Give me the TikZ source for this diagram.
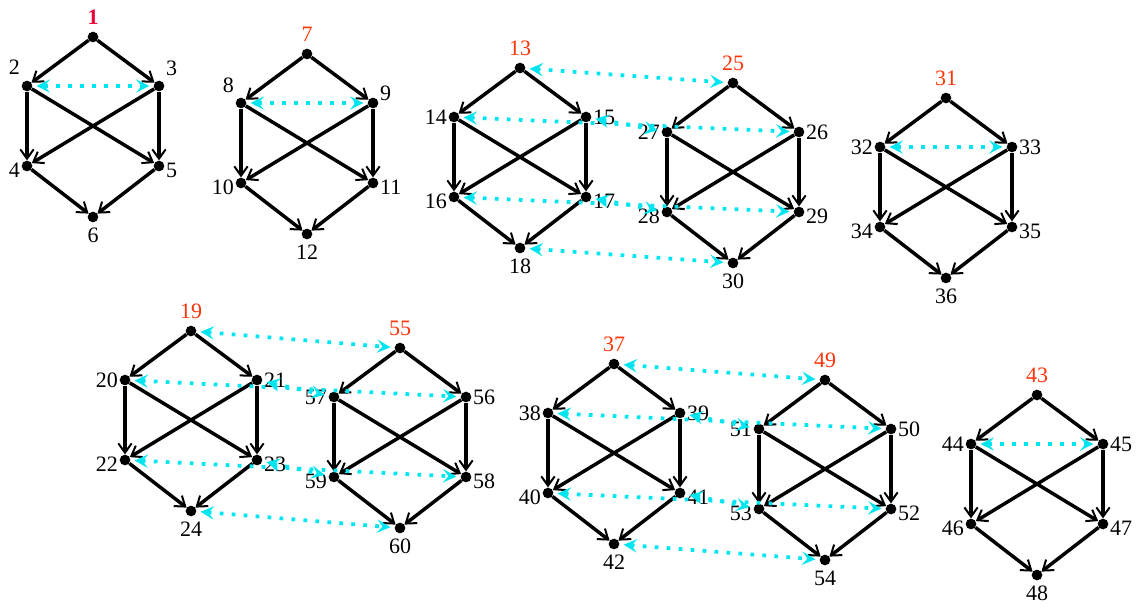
\documentclass[tikz,border=0pt]{standalone}
\usepackage{fontspec}
\setmainfont{Liberation Serif}
\usetikzlibrary{arrows.meta,positioning}

\definecolor{rootred}{RGB}{238,0,58}
\definecolor{rootorange}{RGB}{255,52,8}
\definecolor{linkcyan}{RGB}{0,230,240}

\tikzset{
  vtx/.style={circle,fill=black,inner sep=0pt,minimum size=8pt},
  lab/.style={inner sep=1pt,font=\fontsize{16.5}{17}\selectfont},
  rootA/.style={lab,text=rootred,font=\fontsize{16.5}{17}\selectfont\bfseries},
  rootB/.style={lab,text=rootorange},
  edge/.style={line width=2.6pt,-{Straight Barb[length=7pt,width=10pt,line width=1.5pt]}},
  link/.style={linkcyan,line width=2.8pt,dash pattern=on 2.8pt off 6.2pt,
    {Stealth[length=10pt,width=10pt,inset=4pt]}-{Stealth[length=10pt,width=10pt,inset=4pt]},
    shorten <=3pt,shorten >=3pt}
}

\begin{document}
\begin{tikzpicture}[x=0.75pt,y=-0.75pt]
  \useasboundingbox (0,0) rectangle (1144,608);

  % each hexagon: top, upper left, upper right, lower left, lower right, bottom,
  % the top vertex, the lift of the two upper labels, and the style of the top label
  \foreach \vt/\va/\vb/\vc/\vd/\ve/\x/\y/\sa/\sb/\rs in {
      1/2/3/4/5/6/93/37/14/13/rootA,
      7/8/9/10/11/12/307/54/13/7/rootB,
      13/14/15/16/17/18/520/68/0/0/rootB,
      25/27/26/28/29/30/733/83/0/0/rootB,
      31/32/33/34/35/36/946/98/0/0/rootB,
      19/20/21/22/23/24/191/331/0/0/rootB,
      55/57/56/59/58/60/400/348/0/0/rootB,
      37/38/39/40/41/42/614/364/0/0/rootB,
      49/51/50/53/52/54/825/380/0/0/rootB,
      43/44/45/46/47/48/1037/395/0/0/rootB} {
    \node[vtx] (v\vt) at (\x,\y) {};
    \node[vtx] (v\va) at (\x-66,\y+49) {};
    \node[vtx] (v\vb) at (\x+66,\y+49) {};
    \node[vtx] (v\vc) at (\x-66,\y+129) {};
    \node[vtx] (v\vd) at (\x+66,\y+129) {};
    \node[vtx] (v\ve) at (\x,\y+180) {};

    \node[\rs,above=4pt of v\vt] (n\vt) {\vt};
    \node[lab,left=0pt of v\va,yshift=\sa] (n\va) {\va};
    \node[lab,right=0pt of v\vb,yshift=\sb] (n\vb) {\vb};
    \node[lab,left=0pt of v\vc,yshift=-3] (n\vc) {\vc};
    \node[lab,right=0pt of v\vd,yshift=-3] (n\vd) {\vd};
    \node[lab,below=3pt of v\ve] (n\ve) {\ve};

    \draw[edge] (v\vt) -- (v\va);
    \draw[edge] (v\vt) -- (v\vb);
    \draw[edge] (v\va) -- (v\vc);
    \draw[edge] (v\va) -- (v\vd);
    \draw[edge] (v\vb) -- (v\vd);
    \draw[edge] (v\vb) -- (v\vc);
    \draw[edge] (v\vc) -- (v\ve);
    \draw[edge] (v\vd) -- (v\ve);
  }

  % dotted links inside and between hexagons
  \foreach \p/\q in {2/3,8/9,32/33,44/45,
      13/25,14/26,15/27,16/29,17/28,18/30,
      19/55,20/56,21/57,22/58,23/59,24/60,
      37/49,38/50,39/51,40/52,41/53,42/54}
    \draw[link] (v\p) -- (v\q);

\end{tikzpicture}
\end{document}
